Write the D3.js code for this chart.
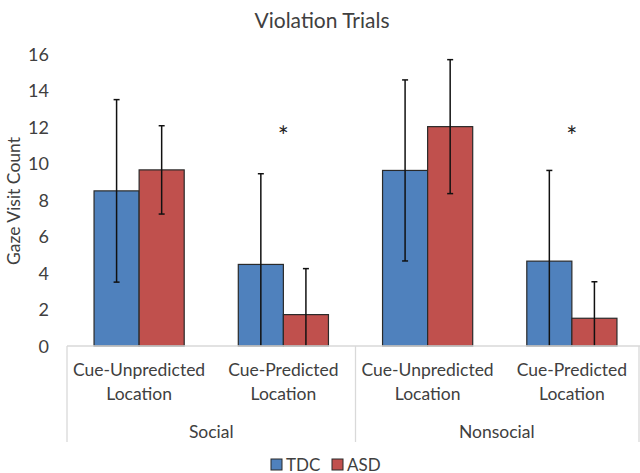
<!DOCTYPE html>
<html>
<head>
<meta charset="utf-8">
<script src="https://cdn.jsdelivr.net/npm/d3@7"></script>
<style>
  body { margin: 0; background: #fff; }
  svg text { font-family: Lato, "Open Sans", sans-serif; fill: #404040; }
</style>
</head>
<body>
<script>
const W = 640, H = 473;

// data
const categories = ["Cue-Unpredicted|Location", "Cue-Predicted|Location", "Cue-Unpredicted|Location", "Cue-Predicted|Location"];
const groups = ["Social", "Nonsocial"];
const series = ["TDC", "ASD"];
const tdcMean = [8.5, 4.47, 9.62, 4.65];
const tdcSD = [5.0, 4.97, 4.96, 4.97];
const asdMean = [9.65, 1.72, 12.02, 1.52];
const asdSD = [2.42, 2.52, 3.67, 2.0];
const significant = [false, true, false, true];
const yTicks = [0, 2, 4, 6, 8, 10, 12, 14, 16];
const starLevel = 11.7;

const COLORS = {TDC: "#4f81bd", ASD: "#c0504d"};

const svg = d3.select("body").append("svg")
  .attr("width", W).attr("height", H);

const x = d3.scaleBand()
  .domain(d3.range(categories.length))
  .range([67, 644])
  .paddingInner(0.375)
  .paddingOuter(0.1875);
const xs = d3.scaleBand().domain(series).range([0, x.bandwidth()]);
const y = d3.scaleLinear().domain([0, 16]).range([346, 54]);

// title
svg.append("text")
  .attr("x", 322).attr("y", 28)
  .attr("text-anchor", "middle")
  .style("font-size", "21px")
  .text("Violation Trials");

// y axis (labels only)
const ay = d3.axisLeft(y).tickValues(yTicks).tickSize(0).tickPadding(0);
const gy = svg.append("g").attr("transform", "translate(49,0)").call(ay);
gy.select(".domain").remove();
gy.selectAll("text").style("font-size", "18px").attr("dy", "0.34em");

svg.append("text")
  .attr("transform", "translate(20,201) rotate(-90)")
  .attr("text-anchor", "middle")
  .style("font-size", "17.5px")
  .text("Gaze Visit Count");

// bars
const rows = categories.map((c, i) => [
  {i: i, s: "TDC", v: tdcMean[i], e: tdcSD[i]},
  {i: i, s: "ASD", v: asdMean[i], e: asdSD[i]}
]).flat();

svg.append("g").selectAll("rect").data(rows).join("rect")
  .attr("x", d => x(d.i) + xs(d.s))
  .attr("y", d => y(d.v))
  .attr("width", xs.bandwidth())
  .attr("height", d => y(0) - y(d.v))
  .attr("fill", d => COLORS[d.s])
  .attr("stroke", "#2a2a2a")
  .attr("stroke-width", 1.2);

// error bars
const eg = svg.append("g").attr("stroke", "#111").attr("stroke-width", 1.5);
rows.forEach(d => {
  const cx = x(d.i) + xs(d.s) + xs.bandwidth() / 2;
  const hi = d.v + d.e, lo = Math.max(0, d.v - d.e);
  eg.append("line").attr("x1", cx).attr("x2", cx).attr("y1", y(hi)).attr("y2", y(lo));
  eg.append("line").attr("x1", cx - 3).attr("x2", cx + 3).attr("y1", y(hi)).attr("y2", y(hi));
  if (d.v - d.e > 0)
    eg.append("line").attr("x1", cx - 3).attr("x2", cx + 3).attr("y1", y(lo)).attr("y2", y(lo));
});

// significance stars
svg.append("g").selectAll("text").data(significant.map((s, i) => ({s, i})).filter(d => d.s)).join("text")
  .attr("x", d => x(d.i) + x.bandwidth() / 2)
  .attr("y", y(starLevel) + 14)
  .attr("text-anchor", "middle")
  .style("font-size", "26px")
  .style("fill", "#222")
  .text("*");

// category axis box
const ag = svg.append("g").attr("stroke", "#d9d9d9").attr("stroke-width", 1.3);
const x0 = x.range()[0], x1 = x.range()[1];
const mid = (x0 + x1) / 2;
ag.append("line").attr("x1", x0).attr("x2", x1).attr("y1", y(0)).attr("y2", y(0));
[x0, mid, 639].forEach(v => {
  ag.append("line").attr("x1", v).attr("x2", v).attr("y1", y(0)).attr("y2", 442);
});

// category labels
svg.append("g").selectAll("text").data(categories).join("text")
  .attr("text-anchor", "middle")
  .style("font-size", "17.5px")
  .each(function(c, i) {
    const cx = x(i) + x.bandwidth() / 2;
    c.split("|").forEach((line, k) => {
      d3.select(this).append("tspan").attr("x", cx).attr("y", 376 + k * 24).text(line);
    });
  });

// group labels
svg.append("g").selectAll("text").data(groups).join("text")
  .attr("x", (g, k) => k === 0 ? (x0 + mid) / 2 : (mid + x1) / 2 - 3)
  .attr("y", 438)
  .attr("text-anchor", "middle")
  .style("font-size", "17.5px")
  .text(g => g);

// legend
const lg = svg.append("g").selectAll("g").data(series).join("g")
  .attr("transform", (s, k) => "translate(" + (271 + k * 61) + ",459)");
lg.append("rect").attr("width", 11).attr("height", 11)
  .attr("fill", s => COLORS[s]).attr("stroke", "#2a2a2a").attr("stroke-width", 1);
lg.append("text").attr("x", 15).attr("y", 11.5).style("font-size", "17px").text(s => s);
</script>
</body>
</html>
